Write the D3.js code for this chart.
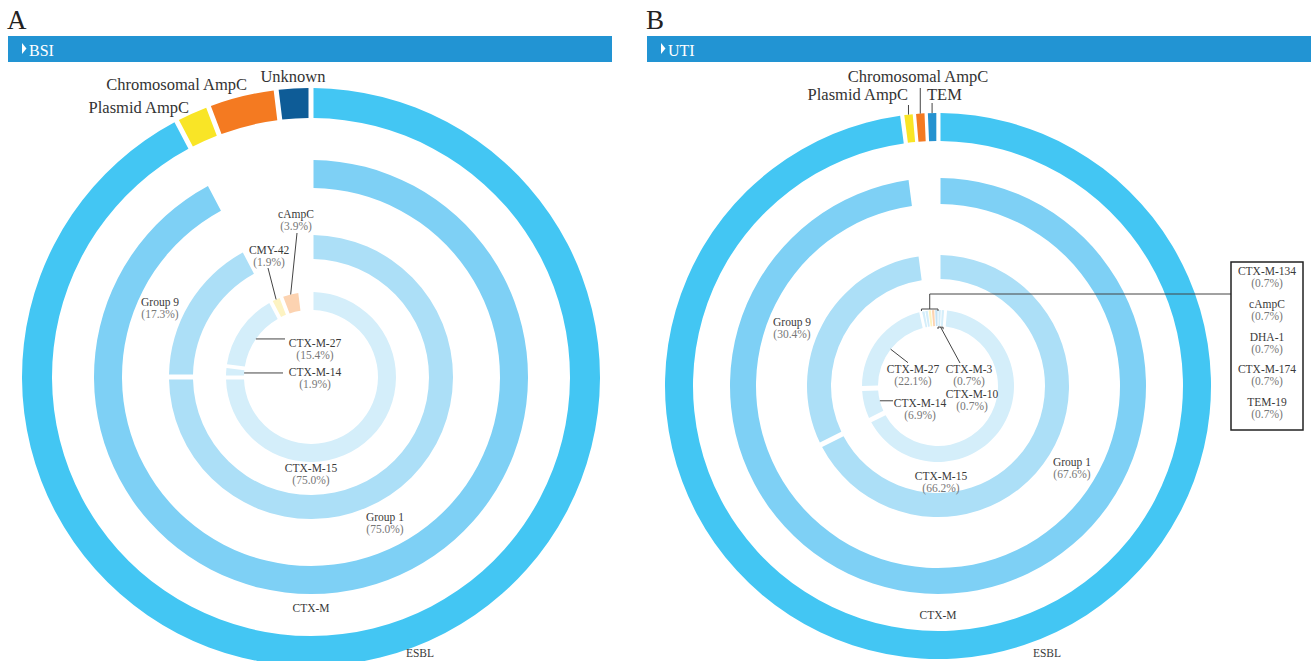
<!DOCTYPE html>
<html>
<head>
<meta charset="utf-8">
<script src="https://cdn.jsdelivr.net/npm/d3@7"></script>
<style>
  body { margin: 0; background: #fff; }
  svg { display: block; }
  text { font-family: "Liberation Serif", "DejaVu Serif", serif; }
</style>
</head>
<body>
<svg id="chart" width="1311" height="661"></svg>
<script>
// ---- A: BSI (n = 52) ----
const bsiTotal = 52;
const bsiClass = ["ESBL", "Plasmid AmpC", "Chromosomal AmpC", "Unknown"];
const bsiClassN = [48, 1, 2, 1];
const bsiFamily = ["CTX-M"];
const bsiFamilyN = [48];
const bsiGroup = ["Group 1", "Group 9"];
const bsiGroupN = [39, 9];
const bsiGroupPct = ["75.0%", "17.3%"];
const bsiGene = ["CTX-M-15", "CTX-M-14", "CTX-M-27", "CMY-42", "cAmpC"];
const bsiGeneN = [39, 1, 8, 1, 2];
const bsiGenePct = ["75.0%", "1.9%", "15.4%", "1.9%", "3.9%"];

// ---- B: UTI (n = 145) ----
const utiTotal = 145;
const utiClass = ["ESBL", "Plasmid AmpC", "Chromosomal AmpC", "TEM"];
const utiClassN = [142, 1, 1, 1];
const utiFamily = ["CTX-M"];
const utiFamilyN = [142];
const utiGroup = ["Group 1", "Group 9"];
const utiGroupN = [98, 44];
const utiGroupPct = ["67.6%", "30.4%"];
const utiGene = ["CTX-M-3", "CTX-M-10", "CTX-M-15", "CTX-M-14", "CTX-M-27",
                 "CTX-M-134", "CTX-M-174", "DHA-1", "cAmpC", "TEM-19"];
const utiGeneN = [1, 1, 96, 10, 32, 1, 1, 1, 1, 1];
const utiGenePct = ["0.7%", "0.7%", "66.2%", "6.9%", "22.1%",
                    "0.7%", "0.7%", "0.7%", "0.7%", "0.7%"];
const utiBoxed = ["CTX-M-134", "cAmpC", "DHA-1", "CTX-M-174", "TEM-19"];

const colour = {
  "ESBL": "#43c6f3", "Plasmid AmpC": "#f9e526", "Chromosomal AmpC": "#f47a21",
  "Unknown": "#0e5c97", "TEM": "#2592d0",
  "CTX-M": "#7ed0f5", "Group 1": "#acdff7", "Group 9": "#acdff7",
  "CMY-42": "#fdf3c2", "DHA-1": "#fdf3c2", "cAmpC": "#fcd3b1", "TEM-19": "#c4e3f5"
};
const geneBlue = "#d4eefa";

const svg = d3.select("#chart");

// cumulative start/end of each slice in a ring
function ring(names, counts) {
  const ends = d3.cumsum(counts);
  return names.map((name, i) => ({ name, n: counts[i], start: ends[i] - counts[i], end: ends[i] }));
}

function header(x, w, letter, title) {
  svg.append("text").attr("x", x - 1).attr("y", 29)
    .attr("font-size", 27).attr("fill", "#222").text(letter);
  svg.append("rect").attr("x", x).attr("y", 36).attr("width", w).attr("height", 26)
    .attr("fill", "#2294d3");
  svg.append("path")
    .attr("d", `M${x + 14},43 L${x + 18.5},48.5 L${x + 14},54 Z`).attr("fill", "#fff");
  svg.append("text").attr("x", x + 21).attr("y", 56)
    .attr("font-size", 16).attr("fill", "#fff").text(title);
}

function drawPanel(p) {
  const g = svg.append("g").attr("transform", `translate(${p.cx},${p.cy})`);
  const angle = d3.scaleLinear().domain([0, p.total]).range([0, 2 * Math.PI]);
  const pt = (v, r) => [r * Math.sin(angle(v)), -r * Math.cos(angle(v))];

  const rings = {};
  p.rings.forEach(rg => {
    const data = ring(rg.names, rg.counts);
    rings[rg.key] = { data, r0: rg.r[0], r1: rg.r[1] };
    const pr = (rg.r[0] + rg.r[1]) / 2;
    const arc = d3.arc()
      .innerRadius(rg.r[0]).outerRadius(rg.r[1])
      .startAngle(d => angle(d.start)).endAngle(d => angle(d.end))
      .padRadius(pr)
      .padAngle(d => Math.min(p.pad / pr, 0.3 * (angle(d.end) - angle(d.start))));
    g.append("g").selectAll("path")
      .data(data)
      .join("path")
      .attr("d", arc)
      .attr("fill", d => colour[d.name] || geneBlue);
  });

  const find = (key, name) => rings[key].data.find(d => d.name === name);
  const mid = d => (d.start + d.end) / 2;

  // two-line label: name + percentage
  function label(x, y, name, pct) {
    const t = g.append("text").attr("text-anchor", "middle").attr("font-size", 11.5);
    t.append("tspan").attr("x", x).attr("y", y).attr("fill", "#3a3a3a").text(name);
    if (pct) t.append("tspan").attr("x", x).attr("y", y + 12).attr("fill", "#777").text(`(${pct})`);
  }
  function line(pts) {
    g.append("path").attr("d", d3.line()(pts))
      .attr("fill", "none").attr("stroke", "#444").attr("stroke-width", 1);
  }

  p.labels.forEach(l => {
    const d = find(l.ring, l.name);
    label(l.x, l.y, l.name, l.pct);
    if (l.lead === "inH") {        // horizontal leader from the inner edge
      const a = pt(mid(d), rings[l.ring].r0);
      line([a, [l.to, a[1]]]);
    } else if (l.lead === "inR") { // radial leader towards the centre
      const a = pt(mid(d), rings[l.ring].r0);
      const b = pt(mid(d), rings[l.ring].r0 - l.len);
      line([a, b]);
    } else if (l.lead === "out") { // from outer edge up to label
      const a = pt(mid(d), rings[l.ring].r1);
      line([a, l.to]);
    }
  });

  // big class labels on the outer ring
  p.classLabels.forEach(l => {
    const d = find("class", l.name);
    g.append("text").attr("x", l.x).attr("y", l.y).attr("text-anchor", l.anchor)
      .attr("font-size", 16.5).attr("fill", "#333").text(l.name);
    if (l.lead) {
      const a = pt(mid(d), rings.class.r1);
      line([a, [a[0], l.lead]]);
    }
  });
  return { g, pt, rings, label, line, find };
}

header(8, 604, "A", "BSI");
header(647, 664, "B", "UTI");

drawPanel({
  cx: 311, cy: 377, total: bsiTotal, pad: 5,
  rings: [
    { key: "class", names: bsiClass, counts: bsiClassN, r: [259, 289] },
    { key: "family", names: bsiFamily, counts: bsiFamilyN, r: [189, 217] },
    { key: "group", names: bsiGroup, counts: bsiGroupN, r: [118, 142] },
    { key: "gene", names: bsiGene, counts: bsiGeneN, r: [67, 85] }
  ],
  labels: [
    { ring: "group", name: "Group 1", pct: bsiGroupPct[0], x: 74, y: 144 },
    { ring: "group", name: "Group 9", pct: bsiGroupPct[1], x: -151, y: -71 },
    { ring: "gene", name: "CTX-M-15", pct: bsiGenePct[0], x: 0, y: 95 },
    { ring: "gene", name: "CTX-M-14", pct: bsiGenePct[1], x: 4, y: -1, lead: "inH", to: -28 },
    { ring: "gene", name: "CTX-M-27", pct: bsiGenePct[2], x: 4, y: -30, lead: "inH", to: -26 },
    { ring: "gene", name: "CMY-42", pct: bsiGenePct[3], x: -42, y: -123, lead: "out", to: [-43, -109] },
    { ring: "gene", name: "cAmpC", pct: bsiGenePct[4], x: -15, y: -159, lead: "out", to: [-14, -144] },
    { ring: "family", name: "CTX-M", x: 0, y: 235 },
    { ring: "class", name: "ESBL", x: 109, y: 280 }
  ],
  classLabels: [
    { name: "Plasmid AmpC", x: -122, y: -264, anchor: "end" },
    { name: "Chromosomal AmpC", x: -64, y: -287, anchor: "end" },
    { name: "Unknown", x: -18, y: -295, anchor: "middle" }
  ]
});

const B = drawPanel({
  cx: 938, cy: 386, total: utiTotal, pad: 5,
  rings: [
    { key: "class", names: utiClass, counts: utiClassN, r: [245, 273] },
    { key: "family", names: utiFamily, counts: utiFamilyN, r: [182, 208] },
    { key: "group", names: utiGroup, counts: utiGroupN, r: [107, 131] },
    { key: "gene", names: utiGene, counts: utiGeneN, r: [60, 76] }
  ],
  labels: [
    { ring: "group", name: "Group 1", pct: utiGroupPct[0], x: 134, y: 80 },
    { ring: "group", name: "Group 9", pct: utiGroupPct[1], x: -146, y: -60 },
    { ring: "gene", name: "CTX-M-15", pct: utiGenePct[2], x: 3, y: 94 },
    { ring: "gene", name: "CTX-M-14", pct: utiGenePct[3], x: -18, y: 21, lead: "inH", to: -45 },
    { ring: "gene", name: "CTX-M-27", pct: utiGenePct[4], x: -25, y: -13, lead: "inR", len: 22 },
    { ring: "gene", name: "CTX-M-3", pct: utiGenePct[0], x: 31, y: -13 },
    { ring: "gene", name: "CTX-M-10", pct: utiGenePct[1], x: 34, y: 12 },
    { ring: "family", name: "CTX-M", x: 0, y: 233 },
    { ring: "class", name: "ESBL", x: 109, y: 271 }
  ],
  classLabels: [
    { name: "Plasmid AmpC", x: -30, y: -286, anchor: "end", lead: -281 },
    { name: "Chromosomal AmpC", x: -20, y: -304, anchor: "middle", lead: -298 },
    { name: "TEM", x: -11, y: -286, anchor: "start", lead: -283 }
  ]
});

// CTX-M-3 / CTX-M-10 leader with a small bracket on the inner edge
(function () {
  const d3s = B.find("gene", "CTX-M-3"), d10 = B.find("gene", "CTX-M-10");
  const r0 = B.rings.gene.r0;
  const a = B.pt(d3s.start, r0 - 1), b = B.pt(d10.end, r0 - 1);
  B.line([[a[0], a[1] + 2], a, b, [b[0], b[1] + 2]]);
  const m = B.pt((d3s.start + d10.end) / 2, r0 - 1);
  B.line([m, [22, -23]]);
})();

// bracket over the five tiny slices, leading to the side box
(function () {
  const first = B.find("gene", "CTX-M-134"), last = B.find("gene", "TEM-19");
  const r1 = B.rings.gene.r1;
  const a = B.pt(first.start, r1 + 1), b = B.pt(last.end, r1 + 1);
  const y = Math.min(a[1], b[1]);
  B.line([[a[0], y + 2], [a[0], y], [b[0], y], [b[0], y + 2]]);
  const mx = (a[0] + b[0]) / 2;
  const boxX = 293, boxY = -124, boxW = 72, boxH = 168;
  B.line([[mx, y], [mx, -92], [boxX, -92]]);
  B.g.append("rect").attr("x", boxX).attr("y", boxY).attr("width", boxW).attr("height", boxH)
    .attr("fill", "#fff").attr("stroke", "#222").attr("stroke-width", 1.5);
  utiBoxed.forEach((name, i) => {
    const k = utiGene.indexOf(name);
    B.label(boxX + boxW / 2, boxY + 13 + i * 32.75, name, utiGenePct[k]);
  });
})();
</script>
</body>
</html>
